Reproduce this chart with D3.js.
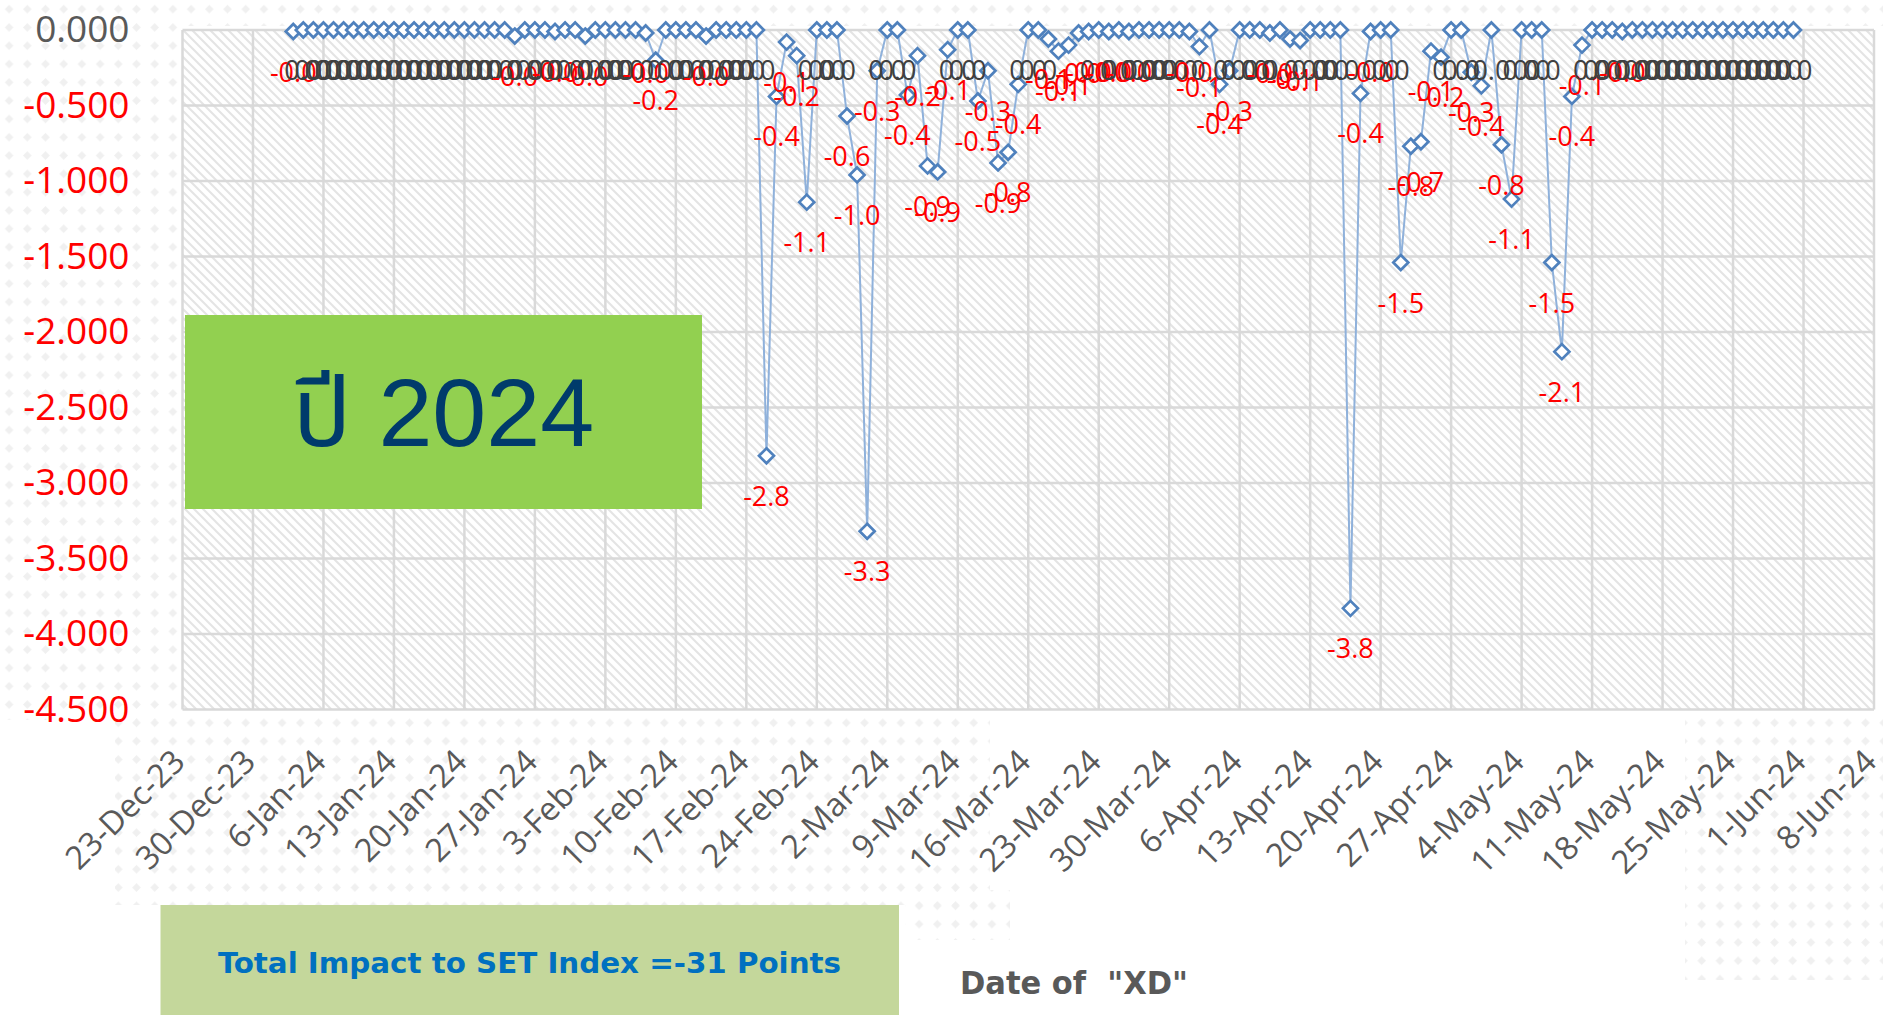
<!DOCTYPE html>
<html>
<head>
<meta charset="utf-8">
<script src="https://cdn.jsdelivr.net/npm/d3@7"></script>
<style>
  body { margin: 0; background: #fff; }
  svg { display: block; }
</style>
</head>
<body>
<svg id="chart" width="1883" height="1015"></svg>
<script>
// ---------------------------------------------------------------------------
// Data: daily SET index impact on XD dates, one value per calendar day
// ---------------------------------------------------------------------------
const firstDay = '2024-01-03';

const janValues = [
  -0.01, 0, 0, 0, 0, 0, 0, 0, 0, 0, 0, 0, 0, 0, 0, 0, 0, 0, 0, 0, 0, 0,
  -0.04, 0, 0, 0, -0.01, 0, 0
];
const febValues = [
  -0.04, 0, 0, 0, 0, 0, -0.02, -0.20, 0, 0, 0, 0, -0.04, 0, 0, 0, 0, 0,
  -2.82, -0.44, -0.08, -0.17, -1.14, 0, 0, 0, -0.57, -0.96, -3.32
];
const marValues = [
  -0.27, 0, 0, -0.43, -0.17, -0.90, -0.94, -0.13, 0, 0, -0.47, -0.27, -0.88,
  -0.81, -0.36, 0, 0, -0.06, -0.14, -0.10, -0.02, -0.01, 0, -0.01, 0, -0.01,
  0, 0, 0, 0, 0
];
const aprValues = [
  -0.01, -0.11, 0, -0.36, -0.27, 0, 0, 0, -0.02, 0, -0.06, -0.07, 0, 0, 0, 0,
  -3.83, -0.42, -0.01, 0, 0, -1.54, -0.77, -0.74, -0.14, -0.18, 0, 0, -0.28, -0.37
];
const mayValues = [
  0, -0.76, -1.12, 0, 0, 0, -1.54, -2.13, -0.44, -0.10, 0, 0, 0, -0.01, 0, 0,
  0, 0, 0, 0, 0, 0, 0, 0, 0, 0, 0, 0, 0, 0, 0
];

const xTickLabels = [
  '23-Dec-23', '30-Dec-23', '6-Jan-24', '13-Jan-24', '20-Jan-24', '27-Jan-24',
  '3-Feb-24', '10-Feb-24', '17-Feb-24', '24-Feb-24', '2-Mar-24', '9-Mar-24',
  '16-Mar-24', '23-Mar-24', '30-Mar-24', '6-Apr-24', '13-Apr-24', '20-Apr-24',
  '27-Apr-24', '4-May-24', '11-May-24', '18-May-24', '25-May-24', '1-Jun-24',
  '8-Jun-24'
];
const yTicks = [0, -0.5, -1.0, -1.5, -2.0, -2.5, -3.0, -3.5, -4.0, -4.5];

const yearLabel = 'ปี 2024';
const totalLabel = 'Total Impact to SET Index =-31 Points';
const xTitle = 'Date of  "XD"';

// ---------------------------------------------------------------------------
// Setup
// ---------------------------------------------------------------------------
const parseTick = d3.utcParse('%d-%b-%y');
const tickDates = xTickLabels.map(parseTick);
const start = d3.utcParse('%Y-%m-%d')(firstDay);
const allValues = [].concat(janValues, febValues, marValues, aprValues, mayValues);
const points = allValues.map((v, i) => ({ date: d3.utcDay.offset(start, i), v }));

const plot = { left: 182.5, right: 1874, top: 30, bottom: 709.5 };
const x = d3.scaleUtc()
  .domain([tickDates[0], tickDates[tickDates.length - 1]])
  .range([plot.left, plot.right]);
const y = d3.scaleLinear().domain([-4.5, 0]).range([plot.bottom, plot.top]);

const svg = d3.select('#chart');
const defs = svg.append('defs');

// background dot pattern (world map decoration)
const dots = defs.append('pattern').attr('id', 'dots')
  .attr('patternUnits', 'userSpaceOnUse').attr('width', 18.2).attr('height', 18.3);
dots.append('path').attr('d', 'M9.1,4.8 L13.4,9.1 L9.1,13.4 L4.8,9.1 Z').attr('fill', '#f0f0f0');

// plot area diagonal hatch
const hatch = defs.append('pattern').attr('id', 'hatch')
  .attr('patternUnits', 'userSpaceOnUse').attr('width', 9).attr('height', 9);
hatch.append('rect').attr('width', 9).attr('height', 9).attr('fill', '#fff');
hatch.append('path').attr('d', 'M-2,-2 L11,11 M-2,7 L2,11 M7,-2 L11,2')
  .attr('stroke', '#e4e4e4').attr('stroke-width', 2);

const dotRegions = [
  [0, 0, 180, 720], [180, 0, 1883, 26], [115, 712, 990, 905],
  [1685, 712, 1883, 980], [905, 890, 1010, 940]
];
svg.append('g').selectAll('rect').data(dotRegions).join('rect')
  .attr('x', d => d[0]).attr('y', d => d[1])
  .attr('width', d => d[2] - d[0]).attr('height', d => d[3] - d[1])
  .attr('fill', 'url(#dots)');

// plot background
svg.append('rect')
  .attr('x', plot.left).attr('y', plot.top)
  .attr('width', plot.right - plot.left).attr('height', plot.bottom - plot.top)
  .attr('fill', 'url(#hatch)');

// gridlines
const grid = svg.append('g').attr('stroke', '#d9d9d9').attr('stroke-width', 2.5);
grid.selectAll('.gx').data(tickDates).join('line')
  .attr('x1', d => x(d)).attr('x2', d => x(d))
  .attr('y1', plot.top).attr('y2', plot.bottom);
grid.selectAll('.gy').data(yTicks).join('line')
  .attr('x1', plot.left).attr('x2', plot.right)
  .attr('y1', d => y(d)).attr('y2', d => y(d));

// axes
const font = "'Open Sans', 'Noto Sans', sans-serif";
const yAxis = svg.append('g')
  .attr('transform', `translate(${plot.left},0)`)
  .call(d3.axisLeft(y).tickValues(yTicks).tickSize(0).tickPadding(53)
    .tickFormat(d => d.toFixed(3)));
yAxis.select('.domain').remove();
yAxis.selectAll('text')
  .style('font-family', font).style('font-size', '37px')
  .attr('fill', d => d === 0 ? '#595959' : '#ff0000');

const xAxis = svg.append('g')
  .attr('transform', `translate(0,${plot.bottom})`)
  .call(d3.axisBottom(x).tickValues(tickDates).tickSize(0)
    .tickFormat((d, i) => xTickLabels[i]));
xAxis.select('.domain').remove();
xAxis.selectAll('text')
  .style('font-family', font).style('font-size', '32.5px')
  .attr('fill', '#595959')
  .attr('text-anchor', 'end')
  .attr('dy', null).attr('y', null)
  .attr('transform', 'translate(4,54) rotate(-45)');

// series line + markers
svg.append('path').datum(points)
  .attr('fill', 'none').attr('stroke', '#8fb1db').attr('stroke-width', 2)
  .attr('d', d3.line().x(d => x(d.date)).y(d => y(d.v)));

svg.append('g').selectAll('path').data(points).join('path')
  .attr('transform', d => `translate(${x(d.date)},${y(d.v)})`)
  .attr('d', 'M0,-7.5 L7.5,0 L0,7.5 L-7.5,0 Z')
  .attr('fill', '#fff').attr('stroke', '#4f81bd').attr('stroke-width', 2.7);

// data labels below points
svg.append('g').selectAll('text').data(points).join('text')
  .attr('x', d => x(d.date)).attr('y', d => y(d.v) + 50)
  .attr('text-anchor', 'middle')
  .style('font-family', font).style('font-size', '27px')
  .attr('fill', d => d.v < 0 ? '#ff0000' : '#404040')
  .text(d => d.v.toFixed(1));

// year box
svg.append('rect').attr('x', 185).attr('y', 315).attr('width', 517).attr('height', 194)
  .attr('fill', '#92d050');
svg.append('text').attr('x', 443.5).attr('y', 446).attr('text-anchor', 'middle')
  .style('font-family', "'Liberation Sans', 'Noto Sans Thai', 'Loma', 'Garuda', sans-serif")
  .style('font-size', '97px').attr('fill', '#003b6b')
  .text(yearLabel);

// total box
svg.append('rect').attr('x', 160.5).attr('y', 905).attr('width', 738.5).attr('height', 110)
  .attr('fill', '#c4d79b');
svg.append('text').attr('x', 218).attr('y', 973)
  .attr('textLength', 623).attr('lengthAdjust', 'spacingAndGlyphs')
  .style('font-family', "'DejaVu Sans Condensed', 'DejaVu Sans', sans-serif")
  .style('font-weight', 'bold').style('font-size', '29px')
  .attr('fill', '#0070c0').text(totalLabel);

// x axis title
svg.append('text').attr('x', 960).attr('y', 994)
  .attr('textLength', 228).attr('lengthAdjust', 'spacingAndGlyphs')
  .style('white-space', 'pre')
  .style('font-family', "'DejaVu Sans Condensed', 'DejaVu Sans', sans-serif")
  .style('font-weight', 'bold').style('font-size', '32px')
  .attr('fill', '#595959').text(xTitle);
</script>
</body>
</html>
